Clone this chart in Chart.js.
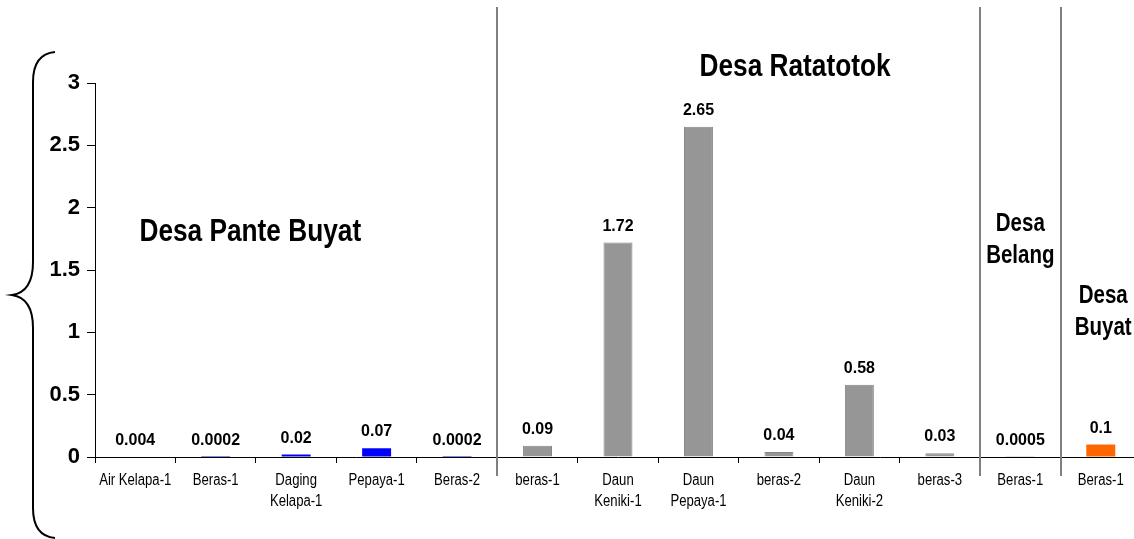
<!DOCTYPE html>
<html>
<head>
<meta charset="utf-8">
<script src="https://cdn.jsdelivr.net/npm/chart.js@4/dist/chart.umd.min.js"></script>
<style>
  html, body { margin: 0; padding: 0; background: #fff; overflow: hidden; }
  #wrap { width: 1134px; height: 539px; overflow: hidden; }
</style>
</head>
<body>
<div id="wrap"><canvas id="chart" width="1141" height="539"></canvas></div>
<script>
// data
const categories = [
  'Air Kelapa-1', 'Beras-1', ['Daging', 'Kelapa-1'], 'Pepaya-1', 'Beras-2',
  'beras-1', ['Daun', 'Keniki-1'], ['Daun', 'Pepaya-1'], 'beras-2', ['Daun', 'Keniki-2'], 'beras-3',
  'Beras-1',
  'Beras-1',
];
const values = [0.004, 0.0002, 0.02, 0.07, 0.0002, 0.09, 1.72, 2.65, 0.04, 0.58, 0.03, 0.0005, 0.1];
const valueLabels = ['0.004', '0.0002', '0.02', '0.07', '0.0002', '0.09', '1.72', '2.65', '0.04', '0.58', '0.03', '0.0005', '0.1'];
// which village each bar belongs to
const villageOf = [0, 0, 0, 0, 0, 1, 1, 1, 1, 1, 1, 2, 3];
const villages = [['Desa Pante Buyat'], ['Desa Ratatotok'], ['Desa', 'Belang'], ['Desa', 'Buyat']];
const yTicks = [0, 0.5, 1, 1.5, 2, 2.5, 3];

const villageFill = ['#0000ff', '#969696', '#969696', '#ff6600'];
const villageEdge = ['#0000ff', '#868686', '#868686', '#ff6600'];
const villageEdgeW = [0, 1, 1, 0];
// label anchor: [category index, value, font px]
const villagePos = [[1.43, 1.8, 32], [8.2, 3.13, 32], [11, 1.74, 25], [12.03, 1.16, 25]];

const ARIAL = '"Liberation Sans", Arial, sans-serif';
const NARROW_X = 0.82; // squeeze Arial into an Arial Narrow look

function narrowText(ctx, t, x, y) {
  ctx.save();
  ctx.translate(x, y);
  ctx.scale(NARROW_X, 1);
  ctx.fillText(t, 0, 0);
  ctx.restore();
}

const extras = {
  id: 'extras',
  afterDraw(chart) {
    const ctx = chart.ctx;
    const x = chart.scales.x, y = chart.scales.y;
    const meta = chart.getDatasetMeta(0);
    ctx.save();

    // value labels above bars
    ctx.fillStyle = '#000';
    ctx.font = 'bold 16px ' + ARIAL;
    ctx.textAlign = 'center';
    ctx.textBaseline = 'alphabetic';
    meta.data.forEach((bar, i) => {
      ctx.fillText(valueLabels[i], bar.x, bar.y - 12);
    });

    // category labels
    ctx.font = '16px ' + ARIAL;
    ctx.textBaseline = 'middle';
    categories.forEach((c, i) => {
      const lines = Array.isArray(c) ? c : [c];
      const cx = x.getPixelForValue(i);
      lines.forEach((t, j) => narrowText(ctx, t, cx, 481 + j * 21));
    });

    // separators between villages
    ctx.strokeStyle = '#808080';
    ctx.lineWidth = 2;
    for (let i = 1; i < villageOf.length; i++) {
      if (villageOf[i] === villageOf[i - 1]) continue;
      const sx = Math.round((x.getPixelForValue(i - 1) + x.getPixelForValue(i)) / 2);
      ctx.beginPath();
      ctx.moveTo(sx, 7);
      ctx.lineTo(sx, 476);
      ctx.stroke();
    }

    // village names
    ctx.fillStyle = '#000';
    villages.forEach((lines, k) => {
      const p = villagePos[k];
      const cx = x.getPixelForValue(p[0]);
      const cy = y.getPixelForValue(p[1]);
      ctx.font = 'bold ' + p[2] + 'px ' + ARIAL;
      ctx.textBaseline = 'middle';
      const lh = p[2] * 1.28;
      lines.forEach((t, j) => {
        narrowText(ctx, t, cx, cy + (j - (lines.length - 1) / 2) * lh);
      });
    });

    // curly brace on the left
    ctx.strokeStyle = '#000';
    ctx.lineWidth = 2;
    ctx.beginPath();
    ctx.moveTo(55, 52);
    ctx.quadraticCurveTo(33, 54, 33, 82);
    ctx.lineTo(33, 262);
    ctx.quadraticCurveTo(33, 292, 12, 295);
    ctx.quadraticCurveTo(33, 298, 33, 328);
    ctx.lineTo(33, 508);
    ctx.quadraticCurveTo(33, 536, 55, 538);
    ctx.stroke();
    ctx.restore();
  }
};

new Chart(document.getElementById('chart'), {
  type: 'bar',
  data: {
    labels: categories,
    datasets: [{
      data: values,
      backgroundColor: villageOf.map(v => villageFill[v]),
      borderColor: villageOf.map(v => villageEdge[v]),
      borderWidth: villageOf.map(v => villageEdgeW[v]),
      inflateAmount: 0,
      barPercentage: 0.36,
      categoryPercentage: 1,
    }]
  },
  options: {
    responsive: false,
    animation: false,
    layout: { padding: { top: 83, right: 0, left: 0, bottom: 0 } },
    plugins: { legend: { display: false }, tooltip: { enabled: false } },
    scales: {
      x: {
        grid: { drawOnChartArea: false, color: '#000', tickLength: 6, offset: true },
        border: { color: '#000', width: 1 },
        ticks: { display: false },
        afterFit(s) { s.height = 82; }
      },
      y: {
        min: 0, max: 3,
        afterBuildTicks(s) { s.ticks = yTicks.map(v => ({ value: v })); },
        grid: { drawOnChartArea: false, color: '#000', tickLength: 8 },
        border: { color: '#000', width: 1 },
        ticks: {
          color: '#000', font: { family: ARIAL, size: 22, weight: 'bold' }, padding: 7,
          callback: v => String(v)
        },
        afterFit(s) { s.width = 95; }
      }
    }
  },
  plugins: [extras]
});
</script>
</body>
</html>
